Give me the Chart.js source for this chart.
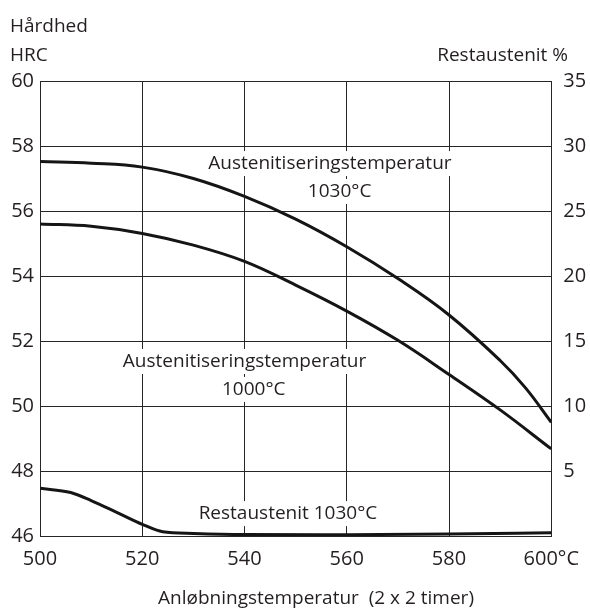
<!DOCTYPE html>
<html><head><meta charset="utf-8">
<script src="https://cdn.jsdelivr.net/npm/chart.js@4/dist/chart.umd.min.js"></script>
<style>html,body{margin:0;padding:0;background:#fff}canvas{display:block}</style>
</head><body>
<canvas id="c" width="590" height="610"></canvas>
<script>
// ---- data ----
const temps1030 = [500,510,520,530,540,550,560,570,580,590,595,600];
const hrc1030   = [57.52,57.47,57.35,57.0,56.45,55.75,54.9,53.92,52.8,51.4,50.55,49.5];
const temps1000 = [500,510,520,530,540,550,560,570,580,590,600];
const hrc1000   = [55.6,55.53,55.31,54.95,54.45,53.72,52.92,52.02,50.97,49.88,48.68];
const tempsRest = [500,506,510,515,520,524,530,540,560,580,600];
const restPct   = [3.67,3.35,2.73,1.82,0.9,0.33,0.2,0.12,0.1,0.15,0.25];
const xTickValues   = [500,520,540,560,580,600];
const hrcTickValues = [46,48,50,52,54,56,58,60];
const restTickValues= [0,5,10,15,20,25,30,35];
const xUnitLabel = '°C';
const leftTitle1 = 'Hårdhed';
const leftTitle2 = 'HRC';
const rightTitle = 'Restaustenit %';
const xTitle = 'Anløbningstemperatur  (2 x 2 timer)';
const curveNotes = [
  {text:'Austenitiseringstemperatur', t:556.7, hrc:57.29},
  {text:'1030°C', t:558.6, hrc:56.43},
  {text:'Austenitiseringstemperatur', t:540.0, hrc:51.2},
  {text:'1000°C', t:541.8, hrc:50.34},
  {text:'Restaustenit 1030°C', t:548.5, hrc:46.52}
];

const FONT = '"Open Sans", sans-serif';
const TXT = '#231f20';
const GRID = '#262626';
const LINE = '#151515';

const pts = (xs, ys) => xs.map((x,i)=>({x, y: ys[i]}));

const textPlugin = {
  id:'texts',
  beforeDatasetsDraw(chart){
    const ctx = chart.ctx, xs = chart.scales.x, ys = chart.scales.y;
    ctx.save();
    ctx.font = '19px ' + FONT;
    ctx.textAlign = 'center';
    ctx.textBaseline = 'alphabetic';
    ctx.fillStyle = '#fff';
    curveNotes.forEach(n=>{
      const px = xs.getPixelForValue(n.t), py = ys.getPixelForValue(n.hrc);
      const w = ctx.measureText(n.text).width;
      ctx.fillRect(px - w/2 - 4, py - 18, w + 8, 25);
    });
    ctx.fillStyle = TXT;
    curveNotes.forEach(n=>{
      const px = xs.getPixelForValue(n.t), py = ys.getPixelForValue(n.hrc);
      ctx.fillText(n.text, px, py);
    });
    ctx.restore();
  },
  afterDraw(chart){
    const ctx = chart.ctx;
    ctx.save();
    ctx.font = '19px ' + FONT;
    ctx.fillStyle = TXT;
    ctx.textBaseline = 'alphabetic';
    ctx.textAlign = 'left';
    ctx.fillText(leftTitle1, 10, 32);
    ctx.fillText(leftTitle2, 10, 61);
    ctx.textAlign = 'right';
    ctx.fillText(rightTitle, 568, 61);
    ctx.textAlign = 'center';
    ctx.fillText(xTitle, 316, 604);
    ctx.restore();
  }
};

new Chart(document.getElementById('c'), {
  type:'line',
  data:{
    datasets:[
      {label:'1030', data:pts(temps1030,hrc1030), yAxisID:'y', borderColor:LINE, borderWidth:3, pointRadius:0, tension:0.4, fill:false},
      {label:'1000', data:pts(temps1000,hrc1000), yAxisID:'y', borderColor:LINE, borderWidth:3, pointRadius:0, tension:0.4, fill:false},
      {label:'rest', data:pts(tempsRest,restPct), yAxisID:'y1', borderColor:LINE, borderWidth:3, pointRadius:0, cubicInterpolationMode:'monotone', fill:false}
    ]
  },
  options:{
    responsive:false,
    animation:false,
    devicePixelRatio:1,
    layout:{padding:{top:81,left:0,right:0,bottom:0}},
    plugins:{legend:{display:false}, tooltip:{enabled:false}},
    scales:{
      x:{
        type:'linear', min:500, max:600,
        afterBuildTicks(s){ s.ticks = xTickValues.map(v=>({value:v})); },
        ticks:{font:{family:FONT,size:20}, color:TXT, padding:11, maxRotation:0, autoSkip:false,
          callback:(v)=> v===600 ? v + xUnitLabel : String(v)},
        grid:{color:GRID, lineWidth:1, drawTicks:false},
        border:{display:true, color:GRID, width:1},
        afterFit(s){ s.height = 74; }
      },
      y:{
        position:'left', min:46, max:60,
        afterBuildTicks(s){ s.ticks = hrcTickValues.map(v=>({value:v})); },
        ticks:{font:{family:FONT,size:20}, color:TXT, padding:6},
        grid:{color:GRID, lineWidth:1, drawTicks:false},
        border:{display:true, color:GRID, width:1},
        afterFit(s){ s.width = 40; }
      },
      y1:{
        position:'right', min:0, max:35,
        afterBuildTicks(s){ s.ticks = restTickValues.map(v=>({value:v})); },
        ticks:{font:{family:FONT,size:20}, color:TXT, padding:12, callback:(v)=> v===0 ? '' : String(v)},
        grid:{display:false, drawTicks:false},
        border:{display:true, color:GRID, width:1},
        afterFit(s){ s.width = 36; }
      }
    }
  },
  plugins:[textPlugin]
});
</script>
</body></html>
